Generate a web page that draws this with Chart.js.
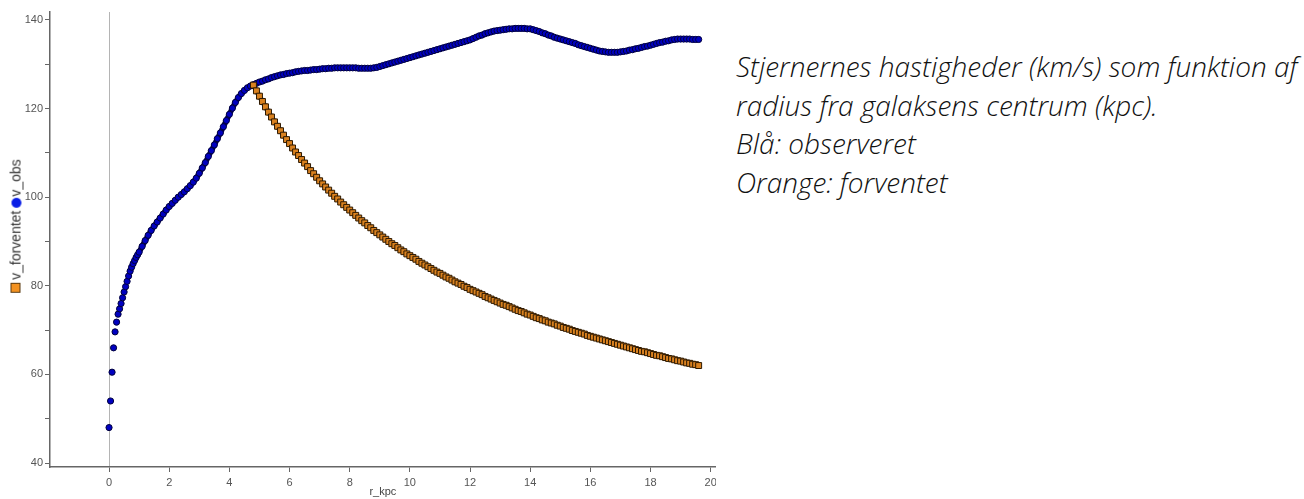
<!DOCTYPE html>
<html>
<head>
<meta charset="utf-8">
<script src="https://cdn.jsdelivr.net/npm/chart.js@4"></script>
<style>
body{margin:0;background:#fff;width:1304px;height:499px;overflow:hidden;position:relative;font-family:"Liberation Sans",sans-serif}
#wrap{position:absolute;left:0;top:0;width:716px;height:499px;overflow:hidden}
#ytitle{position:absolute;left:16px;top:226px;transform:translate(-50%,-50%) rotate(-90deg);white-space:nowrap;font-size:14px;color:#333;line-height:13px}
.sq{display:inline-block;width:8px;height:8px;background:#f39221;border:1px solid #5a3a10;vertical-align:0;margin-right:3px}
.dot{display:inline-block;width:10px;height:10px;border-radius:50%;background:#0a1ee6;vertical-align:-1px;margin:0 1px 0 3px}
#note{position:absolute;left:736px;top:47px;font-family:"Open Sans",sans-serif;font-style:italic;font-weight:300;font-size:28px;line-height:38.5px;color:#111;white-space:nowrap}
</style>
</head>
<body>
<div id="wrap"><canvas id="rotChart" width="721" height="499"></canvas></div>
<div id="ytitle"><span class="sq"></span>v_forventet<span class="dot"></span>v_obs</div>
<div id="note">Stjernernes hastigheder (km/s) som funktion af<br>radius fra galaksens centrum (kpc).<br>Blå: observeret<br>Orange: forventet</div>
<script>
// observeret hastighed (blå)
var r_obs = [0,0.05,0.1,0.15,0.2,0.25,0.3,0.35,0.4,0.45,0.5,0.55,0.6,0.65,0.7,0.75,0.8,0.85,0.9,0.95,1.0,
  1.1,1.2,1.3,1.4,1.5,1.6,1.7,1.8,1.9,2.0,
  2.1,2.2,2.3,2.4,2.5,2.6,2.7,2.8,2.9,3.0,
  3.1,3.2,3.3,3.4,3.5,3.6,3.7,3.8,3.9,4.0,
  4.1,4.2,4.3,4.4,4.5,4.6,4.7,4.8,4.9,5.0,
  5.1,5.2,5.3,5.4,5.5,5.6,5.7,5.8,5.9,6.0,
  6.1,6.2,6.3,6.4,6.5,6.6,6.7,6.8,6.9,7.0,
  7.1,7.2,7.3,7.4,7.5,7.6,7.7,7.8,7.9,8.0,
  8.1,8.2,8.3,8.4,8.5,8.6,8.7,8.8,8.9,9.0,
  9.1,9.2,9.3,9.4,9.5,9.6,9.7,9.8,9.9,10.0,
  10.1,10.2,10.3,10.4,10.5,10.6,10.7,10.8,10.9,11.0,
  11.1,11.2,11.3,11.4,11.5,11.6,11.7,11.8,11.9,12.0,
  12.1,12.2,12.3,12.4,12.5,12.6,12.7,12.8,12.9,13.0,
  13.1,13.2,13.3,13.4,13.5,13.6,13.7,13.8,13.9,14.0,
  14.1,14.2,14.3,14.4,14.5,14.6,14.7,14.8,14.9,15.0,
  15.1,15.2,15.3,15.4,15.5,15.6,15.7,15.8,15.9,16.0,
  16.1,16.2,16.3,16.4,16.5,16.6,16.7,16.8,16.9,17.0,
  17.1,17.2,17.3,17.4,17.5,17.6,17.7,17.8,17.9,18.0,
  18.1,18.2,18.3,18.4,18.5,18.6,18.7,18.8,18.9,19.0,
  19.1,19.2,19.3,19.4,19.5,19.6];
var v_obs = [48.0,54.0,60.5,66.0,69.6,71.8,73.6,74.8,76.0,77.3,78.6,79.8,81.0,82.2,83.3,84.2,85.0,85.7,86.4,87.0,87.6,
  88.9,90.2,91.4,92.5,93.5,94.4,95.3,96.2,97.1,97.9,
  98.6,99.3,100.0,100.6,101.2,101.9,102.6,103.4,104.3,105.4,
  106.6,107.8,109.2,110.5,111.8,113.2,114.5,115.9,117.3,118.7,
  120.1,121.4,122.5,123.4,124.1,124.7,125.1,125.4,125.7,126.0,
  126.2,126.5,126.7,127.0,127.2,127.4,127.6,127.7,127.9,128.0,
  128.1,128.3,128.4,128.5,128.6,128.6,128.7,128.8,128.8,128.9,
  129.0,129.0,129.1,129.1,129.2,129.2,129.2,129.2,129.2,129.2,
  129.2,129.2,129.1,129.1,129.1,129.1,129.1,129.2,129.3,129.5,
  129.7,129.9,130.1,130.3,130.5,130.7,130.9,131.1,131.3,131.5,
  131.7,131.9,132.1,132.3,132.5,132.7,132.9,133.1,133.3,133.5,
  133.7,133.9,134.1,134.3,134.5,134.7,134.9,135.1,135.3,135.5,
  135.8,136.1,136.4,136.6,136.9,137.1,137.3,137.5,137.6,137.7,
  137.8,137.9,138.0,138.0,138.1,138.1,138.1,138.1,138.0,138.0,
  137.8,137.6,137.4,137.1,136.9,136.6,136.4,136.1,135.9,135.7,
  135.5,135.3,135.1,134.9,134.7,134.4,134.2,134.0,133.8,133.6,
  133.4,133.2,133.0,132.9,132.8,132.7,132.7,132.7,132.7,132.8,
  132.9,133.0,133.2,133.3,133.5,133.6,133.8,134.0,134.1,134.3,
  134.5,134.7,134.9,135.0,135.2,135.3,135.5,135.6,135.7,135.7,
  135.7,135.7,135.7,135.6,135.6,135.6];

// forventet hastighed (orange)
var r_exp = [4.8,4.9,5.0,
  5.1,5.2,5.3,5.4,5.5,5.6,5.7,5.8,5.9,6.0,
  6.1,6.2,6.3,6.4,6.5,6.6,6.7,6.8,6.9,7.0,
  7.1,7.2,7.3,7.4,7.5,7.6,7.7,7.8,7.9,8.0,
  8.1,8.2,8.3,8.4,8.5,8.6,8.7,8.8,8.9,9.0,
  9.1,9.2,9.3,9.4,9.5,9.6,9.7,9.8,9.9,10.0,
  10.1,10.2,10.3,10.4,10.5,10.6,10.7,10.8,10.9,11.0,
  11.1,11.2,11.3,11.4,11.5,11.6,11.7,11.8,11.9,12.0,
  12.1,12.2,12.3,12.4,12.5,12.6,12.7,12.8,12.9,13.0,
  13.1,13.2,13.3,13.4,13.5,13.6,13.7,13.8,13.9,14.0,
  14.1,14.2,14.3,14.4,14.5,14.6,14.7,14.8,14.9,15.0,
  15.1,15.2,15.3,15.4,15.5,15.6,15.7,15.8,15.9,16.0,
  16.1,16.2,16.3,16.4,16.5,16.6,16.7,16.8,16.9,17.0,
  17.1,17.2,17.3,17.4,17.5,17.6,17.7,17.8,17.9,18.0,
  18.1,18.2,18.3,18.4,18.5,18.6,18.7,18.8,18.9,19.0,
  19.1,19.2,19.3,19.4,19.5,19.6];
var v_exp = [125.3,124.0,122.8,
  121.6,120.4,119.2,118.1,117.0,116.0,115.0,114.0,113.0,112.1,
  111.1,110.2,109.4,108.5,107.7,106.9,106.0,105.3,104.5,103.7,
  103.0,102.3,101.6,100.9,100.2,99.6,98.9,98.3,97.7,97.1,
  96.5,95.9,95.3,94.7,94.2,93.6,93.1,92.5,92.0,91.5,
  91.0,90.5,90.0,89.5,89.1,88.6,88.1,87.7,87.2,86.8,
  86.4,86.0,85.5,85.1,84.7,84.3,83.9,83.5,83.1,82.8,
  82.4,82.0,81.7,81.3,80.9,80.6,80.3,79.9,79.6,79.2,
  78.9,78.6,78.3,78.0,77.6,77.3,77.0,76.7,76.4,76.1,
  75.8,75.6,75.3,75.0,74.7,74.4,74.2,73.9,73.6,73.4,
  73.1,72.8,72.6,72.3,72.1,71.8,71.6,71.4,71.1,70.9,
  70.6,70.4,70.2,69.9,69.7,69.5,69.3,69.1,68.8,68.6,
  68.4,68.2,68.0,67.8,67.6,67.4,67.2,67.0,66.8,66.6,
  66.4,66.2,66.0,65.8,65.6,65.4,65.2,65.1,64.9,64.7,
  64.5,64.3,64.2,64.0,63.8,63.6,63.5,63.3,63.1,63.0,
  62.8,62.6,62.5,62.3,62.2,62.0];

var xTicks = [0,2,4,6,8,10,12,14,16,18,20];
var yTicks = [40,50,60,70,80,90,100,110,120,130,140];
var yLabels = [40,60,80,100,120,140];

function points(xs, ys){
  var out = [];
  for (var i = 0; i < xs.length; i++) out.push({x: xs[i], y: ys[i]});
  return out;
}

Chart.defaults.font.family = '"Liberation Sans", sans-serif';

var ctx = document.getElementById('rotChart').getContext('2d');
var rotChart = new Chart(ctx, {
  type: 'scatter',
  data: {
    datasets: [{
      label: 'v_forventet',
      data: points(r_exp, v_exp),
      showLine: true,
      borderColor: '#2e1a02',
      borderWidth: 5,
      pointStyle: 'rect',
      pointRadius: 4.2,
      pointBackgroundColor: '#d9811f',
      pointBorderColor: '#2e1a02',
      pointBorderWidth: 1
    },
    {
      label: 'v_obs',
      data: points(r_obs, v_obs),
      showLine: true,
      borderColor: '#00004a',
      borderWidth: 5.5,
      segment: {
        borderColor: function(c){ return c.p0DataIndex < 14 ? 'rgba(0,0,0,0)' : undefined; }
      },
      pointRadius: 3.1,
      pointBackgroundColor: '#0000c0',
      pointBorderColor: '#00003c',
      pointBorderWidth: 1
    }]
  },
  options: {
    responsive: false,
    animation: false,
    layout: {padding: {top: 12, left: 0, right: 0, bottom: 0}},
    plugins: {legend: {display: false}, tooltip: {enabled: false}},
    scales: {
      x: {
        type: 'linear',
        min: -1.963,
        max: 20.17,
        afterBuildTicks: function(s){ s.ticks = xTicks.map(function(v){ return {value: v}; }); },
        afterFit: function(s){ s.height = 32; },
        border: {color: '#666', width: 1.5},
        grid: {
          drawOnChartArea: true,
          color: function(c){ return (c.tick && c.tick.value === 0) ? '#b4b4b4' : 'rgba(0,0,0,0)'; },
          lineWidth: 1,
          tickColor: '#666',
          tickLength: 5
        },
        ticks: {color: '#555', font: {size: 11}, padding: 4, maxRotation: 0},
        title: {display: true, text: 'r_kpc', color: '#444', font: {size: 11}, padding: 0}
      },
      y: {
        min: 39.1,
        max: 141.8,
        afterBuildTicks: function(s){ s.ticks = yTicks.map(function(v){ return {value: v}; }); },
        afterFit: function(s){ s.width = 50; },
        border: {color: '#666', width: 1.5},
        grid: {drawOnChartArea: false, tickColor: '#666', tickLength: 5},
        ticks: {
          color: '#555',
          font: {size: 11},
          padding: 2,
          callback: function(v){ return yLabels.indexOf(v) >= 0 ? v : ''; }
        }
      }
    }
  }
});
</script>
</body>
</html>
